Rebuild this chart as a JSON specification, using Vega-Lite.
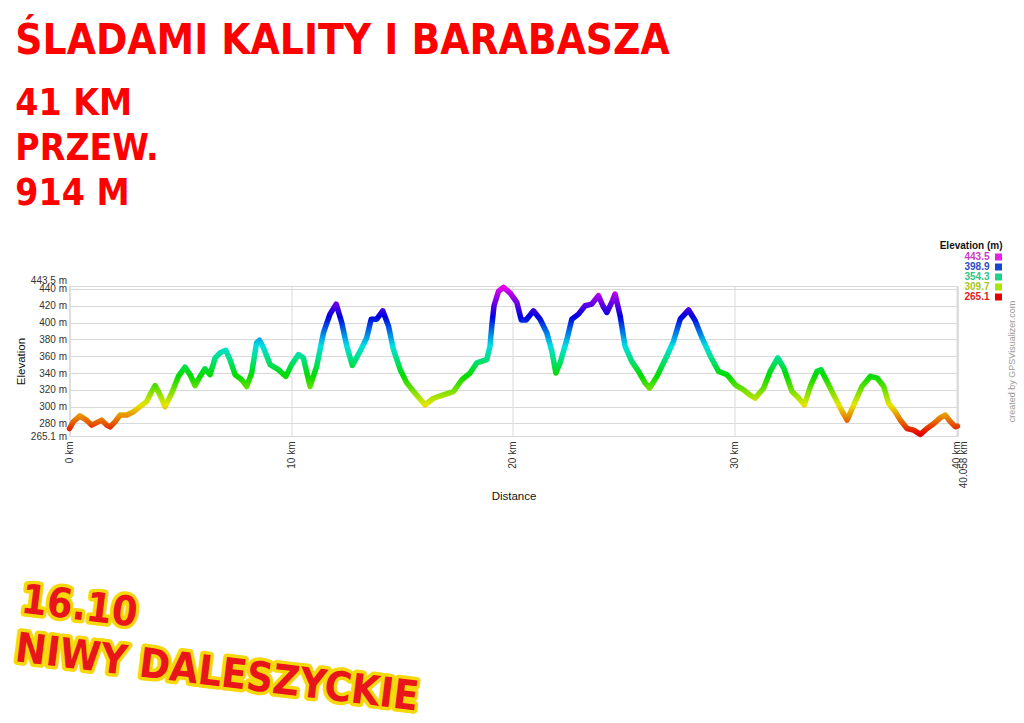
{
  "$schema": "https://vega.github.io/schema/vega-lite/v6.json",
  "background": "white",
  "padding": {"left": 12.5, "top": 19, "right": 4, "bottom": 0},
  "config": {
    "font": "Liberation Sans",
    "view": {"stroke": "#c8c8c8"},
    "axis": {
      "labelFont": "Liberation Sans", "labelFontSize": 10, "labelColor": "#333333",
      "titleFont": "Liberation Sans", "titleFontSize": 11.5, "titleFontWeight": "normal", "titleColor": "#111111",
      "gridColor": "#d9d9d9", "domain": false, "ticks": false, "tickSize": 0
    }
  },
  "spacing": 6,
  "datasets": {
    "profile": [
      {"km": 0.00, "elev": 274}, {"km": 0.17, "elev": 282}, {"km": 0.47, "elev": 289}, {"km": 0.77, "elev": 284},
      {"km": 1.00, "elev": 278}, {"km": 1.23, "elev": 281}, {"km": 1.45, "elev": 284}, {"km": 1.68, "elev": 278},
      {"km": 1.83, "elev": 276}, {"km": 2.05, "elev": 282}, {"km": 2.28, "elev": 290}, {"km": 2.58, "elev": 290},
      {"km": 2.88, "elev": 294}, {"km": 3.18, "elev": 300}, {"km": 3.48, "elev": 306}, {"km": 3.71, "elev": 318},
      {"km": 3.86, "elev": 325}, {"km": 4.08, "elev": 314}, {"km": 4.31, "elev": 300}, {"km": 4.61, "elev": 316},
      {"km": 4.91, "elev": 336}, {"km": 5.21, "elev": 347}, {"km": 5.44, "elev": 338}, {"km": 5.66, "elev": 325},
      {"km": 5.89, "elev": 336}, {"km": 6.11, "elev": 345}, {"km": 6.34, "elev": 338}, {"km": 6.57, "elev": 358},
      {"km": 6.79, "elev": 364}, {"km": 7.05, "elev": 367}, {"km": 7.24, "elev": 356}, {"km": 7.47, "elev": 338},
      {"km": 7.77, "elev": 332}, {"km": 7.99, "elev": 324}, {"km": 8.22, "elev": 340}, {"km": 8.44, "elev": 376},
      {"km": 8.57, "elev": 379}, {"km": 8.75, "elev": 370}, {"km": 9.05, "elev": 350}, {"km": 9.42, "elev": 344},
      {"km": 9.76, "elev": 336}, {"km": 10.02, "elev": 350}, {"km": 10.33, "elev": 362}, {"km": 10.55, "elev": 358},
      {"km": 10.85, "elev": 324}, {"km": 11.15, "elev": 348}, {"km": 11.46, "elev": 388}, {"km": 11.75, "elev": 410},
      {"km": 12.03, "elev": 422}, {"km": 12.28, "elev": 400}, {"km": 12.51, "elev": 372}, {"km": 12.76, "elev": 349},
      {"km": 13.11, "elev": 366}, {"km": 13.41, "elev": 382}, {"km": 13.61, "elev": 404}, {"km": 13.86, "elev": 404},
      {"km": 14.13, "elev": 414}, {"km": 14.39, "elev": 396}, {"km": 14.61, "elev": 368}, {"km": 14.92, "elev": 344},
      {"km": 15.22, "elev": 328}, {"km": 15.59, "elev": 316}, {"km": 16.04, "elev": 302}, {"km": 16.42, "elev": 310},
      {"km": 16.87, "elev": 314}, {"km": 17.32, "elev": 318}, {"km": 17.70, "elev": 332}, {"km": 18.07, "elev": 340},
      {"km": 18.37, "elev": 352}, {"km": 18.82, "elev": 356}, {"km": 18.97, "elev": 372}, {"km": 19.05, "elev": 396},
      {"km": 19.15, "elev": 420}, {"km": 19.35, "elev": 437}, {"km": 19.58, "elev": 442}, {"km": 19.88, "elev": 435},
      {"km": 20.18, "elev": 424}, {"km": 20.38, "elev": 403}, {"km": 20.60, "elev": 403}, {"km": 20.93, "elev": 414},
      {"km": 21.23, "elev": 404}, {"km": 21.53, "elev": 388}, {"km": 21.76, "elev": 366}, {"km": 21.94, "elev": 340},
      {"km": 22.13, "elev": 352}, {"km": 22.44, "elev": 380}, {"km": 22.66, "elev": 404}, {"km": 22.96, "elev": 410},
      {"km": 23.26, "elev": 420}, {"km": 23.56, "elev": 422}, {"km": 23.86, "elev": 432}, {"km": 24.06, "elev": 420},
      {"km": 24.24, "elev": 412}, {"km": 24.46, "elev": 424}, {"km": 24.61, "elev": 434}, {"km": 24.84, "elev": 408},
      {"km": 25.06, "elev": 372}, {"km": 25.36, "elev": 354}, {"km": 25.67, "elev": 342}, {"km": 25.97, "elev": 328},
      {"km": 26.17, "elev": 322}, {"km": 26.50, "elev": 336}, {"km": 26.87, "elev": 356}, {"km": 27.25, "elev": 378},
      {"km": 27.55, "elev": 404}, {"km": 27.93, "elev": 415}, {"km": 28.23, "elev": 402}, {"km": 28.53, "elev": 382},
      {"km": 28.91, "elev": 360}, {"km": 29.28, "elev": 342}, {"km": 29.66, "elev": 338}, {"km": 30.03, "elev": 326},
      {"km": 30.41, "elev": 320}, {"km": 30.68, "elev": 314}, {"km": 30.93, "elev": 310}, {"km": 31.31, "elev": 322},
      {"km": 31.61, "elev": 342}, {"km": 31.95, "elev": 358}, {"km": 32.22, "elev": 346}, {"km": 32.59, "elev": 318},
      {"km": 32.90, "elev": 310}, {"km": 33.15, "elev": 302}, {"km": 33.42, "elev": 324}, {"km": 33.72, "elev": 342},
      {"km": 33.90, "elev": 344}, {"km": 34.17, "elev": 330}, {"km": 34.47, "elev": 314}, {"km": 34.78, "elev": 298},
      {"km": 35.08, "elev": 284}, {"km": 35.38, "elev": 302}, {"km": 35.75, "elev": 324}, {"km": 36.13, "elev": 336},
      {"km": 36.43, "elev": 334}, {"km": 36.73, "elev": 324}, {"km": 36.95, "elev": 304}, {"km": 37.25, "elev": 294},
      {"km": 37.48, "elev": 284}, {"km": 37.78, "elev": 274}, {"km": 38.08, "elev": 272}, {"km": 38.38, "elev": 267},
      {"km": 38.68, "elev": 274}, {"km": 38.99, "elev": 280}, {"km": 39.29, "elev": 287}, {"km": 39.51, "elev": 290},
      {"km": 39.74, "elev": 282}, {"km": 39.97, "elev": 276}, {"km": 40.058, "elev": 277}
    ],
    "legend": [
      {"elev": "443.5", "v": 443.5},
      {"elev": "398.9", "v": 398.9},
      {"elev": "354.3", "v": 354.3},
      {"elev": "309.7", "v": 309.7},
      {"elev": "265.1", "v": 265.1}
    ],
    "caption": [{"label": "16.10\nNIWY DALESZYCKIE"}]
  },
  "vconcat": [
    {
      "width": 888,
      "height": 150,
      "title": {
        "text": "ŚLADAMI KALITY I BARABASZA",
        "subtitle": ["\u00a041 KM", "PRZEW.", "\u00a0914 M"],
        "anchor": "start",
        "font": "DejaVu Sans Condensed, Liberation Sans Narrow, DejaVu Sans",
        "fontSize": 42, "fontWeight": "bold", "color": "#ff0000",
        "subtitleFont": "DejaVu Sans Condensed, Liberation Sans Narrow, DejaVu Sans",
        "subtitleFontSize": 37, "subtitleFontWeight": "bold", "subtitleColor": "#ff0000",
        "subtitleLineHeight": 45, "subtitlePadding": 23, "offset": 62
      },
      "resolve": {"axis": {"y": "independent"}},
      "layer": [
        {
          "data": {"name": "profile"},
          "mark": {
            "type": "line", "strokeWidth": 5.5, "strokeJoin": "round", "strokeCap": "round",
            "stroke": {
              "gradient": "linear", "x1": 0, "y1": 0, "x2": 0, "y2": 1,
              "stops": [
                {"offset": 0.0, "color": "#e600e6"},
                {"offset": 0.1, "color": "#7300e6"},
                {"offset": 0.2, "color": "#0000e0"},
                {"offset": 0.3, "color": "#0073e6"},
                {"offset": 0.4, "color": "#00e0e0"},
                {"offset": 0.5, "color": "#00e073"},
                {"offset": 0.6, "color": "#00dc00"},
                {"offset": 0.7, "color": "#73e000"},
                {"offset": 0.8, "color": "#e6e600"},
                {"offset": 0.9, "color": "#e67300"},
                {"offset": 1.0, "color": "#e60000"}
              ]
            }
          },
          "encoding": {
            "x": {
              "field": "km", "type": "quantitative", "title": "Distance",
              "scale": {"domain": [0, 40.058], "nice": false, "zero": false},
              "axis": {
                "values": [0, 10, 20, 30, 40, 40.058],
                "labelExpr": "datum.value + ' km'",
                "labelAngle": 270, "labelPadding": 5, "labelFlush": false, "labelOverlap": false,
                "labelOffset": {"expr": "datum.value > 40.01 ? 6 : 0"},
                "grid": true, "titlePadding": 3
              }
            },
            "y": {
              "field": "elev", "type": "quantitative", "title": "Elevation",
              "scale": {"domain": [265.1, 443.5], "nice": false, "zero": false},
              "axis": {
                "orient": "left",
                "values": [265.1, 280, 300, 320, 340, 360, 380, 400, 420, 440, 443.5],
                "labelExpr": "datum.value + ' m'",
                "labelOffset": {"expr": "datum.value > 443 ? -6 : 0"},
                "labelPadding": 3, "labelOverlap": false, "labelFlush": false, "grid": true
              }
            }
          }
        },
        {
          "data": {"name": "legend"},
          "mark": {"type": "square", "filled": true, "opacity": 0},
          "encoding": {
            "y": {
              "field": "v", "type": "quantitative",
              "axis": {
                "orient": "right", "title": "created by GPSVisualizer.com",
                "labels": false, "grid": false, "ticks": false, "domain": false,
                "titleAngle": 270, "titlePadding": 59, "titleColor": "#9a9a9a", "titleFontSize": 9
              }
            },
            "color": {
              "field": "elev", "type": "nominal",
              "scale": {
                "domain": ["443.5", "398.9", "354.3", "309.7", "265.1"],
                "range": ["#e61ee6", "#1446d2", "#1ed28a", "#aae600", "#e60000"]
              },
              "legend": {
                "orient": "none", "legendX": 870, "legendY": -45,
                "title": "Elevation (m)", "titleFont": "Liberation Sans", "titleFontSize": 10,
                "titleFontWeight": "bold", "titleColor": "#111111", "titleAnchor": "end", "titlePadding": 1,
                "symbolType": "square", "symbolSize": 49, "symbolStrokeWidth": 0, "symbolOpacity": 1,
                "labelFont": "Liberation Sans", "labelFontSize": 10, "labelFontWeight": "bold",
                "rowPadding": -0.5, "padding": 0,
                "encode": {
                  "labels": {"update": {
                    "align": {"value": "right"}, "x": {"value": -4},
                    "fill": {"signal": "datum.value === '443.5' ? '#c83cc8' : datum.value === '398.9' ? '#2c4ec4' : datum.value === '354.3' ? '#2ec48a' : datum.value === '309.7' ? '#a6c61e' : '#dc1e1e'"}
                  }},
                  "symbols": {"update": {"opacity": {"value": 1}}}
                }
              }
            }
          }
        }
      ]
    },
    {
      "width": 12,
      "height": 156,
      "view": {"stroke": null},
      "data": {"name": "caption"},
      "encoding": {"text": {"field": "label"}},
      "layer": [
        {"mark": {"type": "text", "lineBreak": "\n", "align": "left", "baseline": "top", "angle": 7, "dx": -52,
                  "font": "DejaVu Sans Condensed, Liberation Sans Narrow, DejaVu Sans", "fontWeight": "bold",
                  "fontSize": 41, "lineHeight": 49, "fill": "#f5d90a", "stroke": "#f5d90a", "strokeWidth": 7, "strokeJoin": "round"}},
        {"mark": {"type": "text", "lineBreak": "\n", "align": "left", "baseline": "top", "angle": 7, "dx": -52,
                  "font": "DejaVu Sans Condensed, Liberation Sans Narrow, DejaVu Sans", "fontWeight": "bold",
                  "fontSize": 41, "lineHeight": 49, "fill": "#e8151b"}}
      ]
    }
  ]
}
